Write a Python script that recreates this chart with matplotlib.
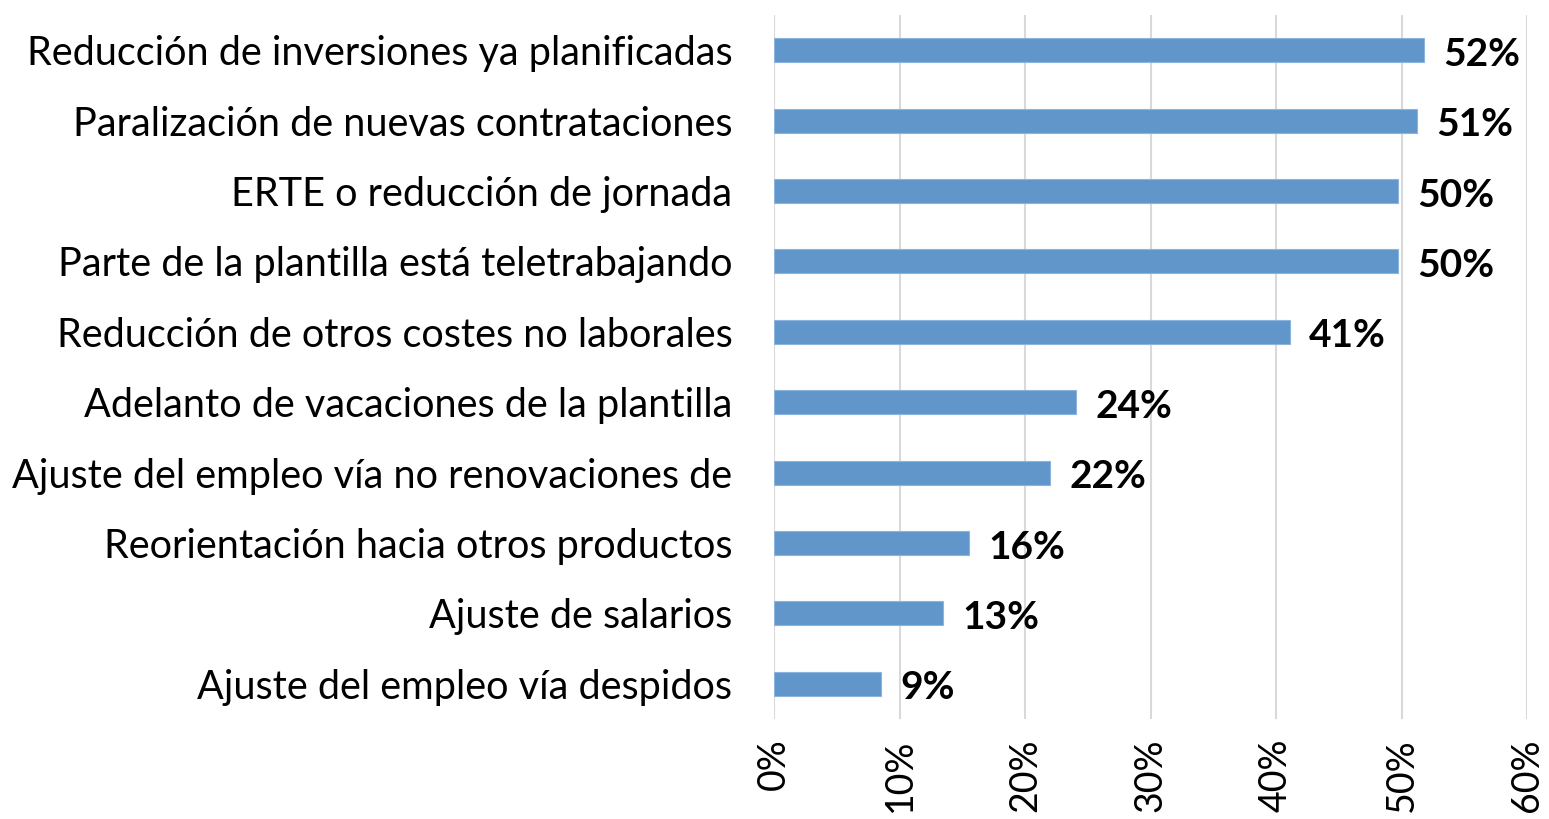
import matplotlib.pyplot as plt
from matplotlib.ticker import PercentFormatter

# categories, top to bottom as in the picture
categories = [
    "Reducción de inversiones ya planificadas",
    "Paralización de nuevas contrataciones",
    "ERTE o reducción de jornada",
    "Parte de la plantilla está teletrabajando",
    "Reducción de otros costes no laborales",
    "Adelanto de vacaciones de la plantilla",
    "Ajuste del empleo vía no renovaciones de",
    "Reorientación hacia otros productos",
    "Ajuste de salarios",
    "Ajuste del empleo vía despidos",
]
values = [0.518, 0.512, 0.497, 0.497, 0.411, 0.241, 0.220, 0.155, 0.135, 0.085]
labels = ["52%", "51%", "50%", "50%", "41%", "24%", "22%", "16%", "13%", "9%"]
xticks = [0, 0.1, 0.2, 0.3, 0.4, 0.5, 0.6]

plt.rcParams['font.family'] = ['Lato', 'DejaVu Sans']

fig = plt.figure(figsize=(15.49, 8.19), dpi=100)
ax = fig.add_axes([774 / 1549, 1 - 719 / 819, (1527 - 774) / 1549, (719 - 15) / 819])

ypos = list(range(len(categories)))[::-1]
ax.barh(ypos, values, height=0.34, color='#6096C9', edgecolor='#8DB4DE', linewidth=0.8, zorder=3)

for y, v, lab in zip(ypos, values, labels):
    ax.annotate(lab, (v, y), xytext=(14, -3), textcoords='offset points',
                va='center', ha='left', fontsize=28, fontweight='bold', color='black')

ax.set_xlim(0, 0.6)
ax.set_ylim(-0.5, len(categories) - 0.5)
ax.set_xticks(xticks)
ax.xaxis.set_major_formatter(PercentFormatter(1.0, decimals=0))
ax.set_yticks(ypos)
ax.set_yticklabels(categories, fontsize=28.5)
ax.tick_params(axis='x', labelrotation=90, labelsize=27, length=0, pad=14)
ax.tick_params(axis='y', length=0, pad=30)
ax.grid(axis='x', color='#D9D9D9', linewidth=1.5, zorder=0)
for s in ax.spines.values():
    s.set_visible(False)

fig.savefig("out.png", dpi=100)
